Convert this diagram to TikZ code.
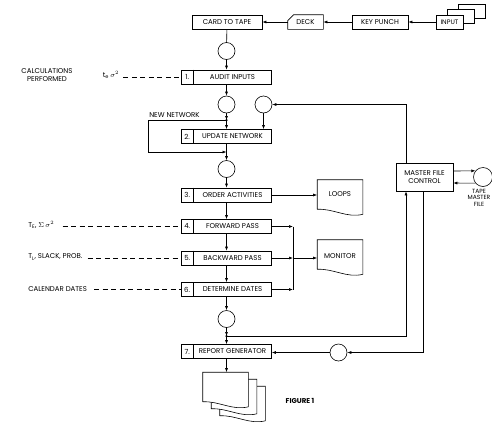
\documentclass[tikz,border=0pt]{standalone}
\usepackage{fontspec}
\setmainfont{Poppins}
\usetikzlibrary{arrows.meta}

% separator and number of a step box
\newcommand{\numcell}[2]{%
  \draw ([xshift=12pt]#1.north west) -- ([xshift=12pt]#1.south west);
  \node at ([xshift=6pt]#1.west) {#2};}
% document outline round a node
\newcommand{\docshape}[1]{%
  \draw[fill=white] (#1.south west) -- (#1.north west) -- (#1.north east)
    -- ([yshift=-5pt]#1.south east)
    .. controls ([xshift=-16pt,yshift=-9pt]#1.south east) and ([xshift=16pt,yshift=1pt]#1.south west) .. (#1.south west);}

\begin{document}
\begin{tikzpicture}[x=1pt, y=-1pt, line width=0.6pt,
    every node/.style={font=\fontsize{7}{7.6}\selectfont, inner sep=1pt},
    box/.style={draw, fill=white, minimum width=90pt, minimum height=14pt, inner sep=0pt},
    card/.style={draw, fill=white, minimum height=14pt, inner sep=0pt},
    ring/.style={draw, circle, minimum size=17pt, inner sep=0pt},
    doc/.style={minimum width=45pt, minimum height=29pt, inner sep=0pt},
    arr/.style={-{Latex[length=4pt,width=3pt]}},
    dashline/.style={dash pattern=on 5pt off 3.5pt},
    dot/.style={circle, fill, inner sep=0pt, minimum size=2.5pt}]
    \useasboundingbox (0,0) rectangle (492,429);

    % input side
    \draw[fill=white] (458,4) rectangle (485,18);
    \draw[fill=white] (447,9.5) rectangle (474,23.5);
    \node[card, minimum width=27pt, font=\fontsize{6.5}{7}\selectfont] (input) at (449.5,22) {INPUT};
    \node[card, minimum width=56pt] (keypunch) at (380,22) {KEY PUNCH};
    \node[minimum width=35pt, minimum height=14pt, inner sep=0pt] (deck) at (305.5,22) {DECK};
    \draw (deck.south west) -- ([yshift=-6pt]deck.north west) -- ([xshift=6pt]deck.north west)
        -- (deck.north east) -- (deck.south east) -- cycle;
    \node[card, minimum width=70pt] (cardtape) at (227,22) {CARD TO TAPE};

    % main column
    \node[ring] (c1) at (226.5,51) {};
    \node[box] (audit) at (226.5,77) {\hspace*{12pt}AUDIT INPUTS};
    \numcell{audit}{1.}
    \node[ring] (c2) at (226.5,104.5) {};
    \node[ring] (c2r) at (263.5,104.5) {};
    \coordinate (jn) at (226.5,120);
    \node[box] (update) at (226.5,136.5) {\hspace*{12pt}UPDATE NETWORK};
    \numcell{update}{2.}
    \coordinate (jm) at (226.5,152);
    \node[ring] (c3) at (226.5,169) {};
    \node[box] (order) at (226.5,195) {\hspace*{12pt}ORDER ACTIVITIES};
    \numcell{order}{3.}
    \node[box] (fwd) at (226.5,226.5) {\hspace*{12pt}FORWARD PASS};
    \numcell{fwd}{4.}
    \node[box] (bwd) at (226.5,258) {\hspace*{12pt}BACKWARD PASS};
    \numcell{bwd}{5.}
    \node[box] (dates) at (226.5,289.5) {\hspace*{12pt}DETERMINE DATES};
    \numcell{dates}{6.}
    \node[ring] (c4) at (226.5,319) {};
    \coordinate (jr) at (226.5,336);
    \node[box] (report) at (226.5,351.5) {\hspace*{12pt}REPORT GENERATOR};
    \numcell{report}{7.}

    % outputs
    \node[doc] (loops) at (340,194.5) {};
    \docshape{loops}
    \node at (loops) {LOOPS};
    \node[doc] (monitor) at (340,254.5) {};
    \docshape{monitor}
    \node at ([yshift=-1.5pt]monitor.center) {MONITOR};
    \node[doc] (doc3) at (242.5,401) {};
    \docshape{doc3}
    \node[doc] (doc2) at (234,394) {};
    \docshape{doc2}
    \node[doc] (doc1) at (225.5,387) {};
    \docshape{doc1}

    % master file
    \node[draw, minimum width=57pt, minimum height=28pt, inner sep=0pt, align=center] (master) at (424.5,177) {MASTER FILE\\CONTROL};
    \node[ring, minimum size=19pt] (tape) at (483,177) {};
    \node[align=center, anchor=north, font=\fontsize{6}{6.5}\selectfont] (tapetext) at (479,188) {TAPE\\MASTER\\FILE};
    \node[ring] (c5) at (338.5,352.5) {};

    % left labels
    \node[align=center] (calc) at (47,75) {CALCULATIONS\\PERFORMED};
    \node (te) at (111,75) {t\textsubscript{e}\,$\sigma^2$};
    \node[anchor=west] (tE) at (27,225) {T\textsubscript{E}, $\Sigma\,\sigma^2$};
    \node[anchor=west] (tL) at (27,257) {T\textsubscript{L}, SLACK, PROB.};
    \node[anchor=west] (cal) at (27,289) {CALENDAR DATES};
    \node[anchor=base west] (newnet) at (148,117) {NEW NETWORK};
    \node[font=\fontsize{7}{8}\selectfont\bfseries] (fig) at (300,401) {FIGURE 1};

    % connectors
    \draw[arr] (input) -- (keypunch);
    \draw[arr] (keypunch) -- (deck);
    \draw[arr] (deck) -- (cardtape);
    \draw (cardtape) -- (c1);
    \draw[arr] (c1) -- (audit);
    \draw[arr] (audit) -- (c2);
    \draw[arr] (c2) -- (jn);
    \draw[arr] (jn) -- (update);
    \draw[arr] (c2r) -- (c2r |- update.north);
    \draw[arr] (jn) -- ++(-78.5,0) |- (jm);
    \draw[arr] (update) -- (c3);
    \draw[arr] (c3) -- (order);
    \draw[arr] (order.east) -- (order.east -| loops.west);
    \draw[arr] (order) -- (fwd);
    \draw[arr] (fwd) -- (bwd);
    \draw[arr] (bwd) -- (dates);
    \draw[arr] (dates) -- (c4);
    \draw[arr] (c4) -- (jr);
    \draw[arr] (jr) -- (report);
    \draw[arr] (report.south) -- (report.south |- doc1.north);
    \node[dot] at (jn) {};
    \node[dot] at (jr) {};

    \coordinate (jb) at (293,258);
    \draw[arr] (fwd.east) -- (fwd.east -| jb);
    \draw[arr] (bwd.east) -- (jb);
    \draw[arr] (dates.east) -- (dates.east -| jb);
    \draw (fwd.east -| jb) -- (dates.east -| jb);
    \draw[arr] (jb) -- (jb -| monitor.west);

    \draw[arr] ([xshift=-18.5pt]master.north) |- (c2r);
    \draw[arr] (jr) -| ([xshift=-18.5pt]master.south);
    \draw[arr] ([xshift=-1.5pt]master.south) |- (c5);
    \draw[arr] (c5) -- (c5 -| report.east);
    \draw[arr] ([yshift=6pt]master.east) -- (tape.141);
    \draw[arr] (tape.219) -- ([yshift=-6pt]master.east);

    \draw[dashline] ([xshift=3pt]te.east |- audit) -- (audit.west);
    \draw[dashline] ([xshift=7pt]tE.east |- fwd) -- (fwd.west);
    \draw[dashline] ([xshift=4pt]tL.east |- bwd) -- (bwd.west);
    \draw[dashline] ([xshift=6pt]cal.east |- dates) -- (dates.west);
\end{tikzpicture}
\end{document}
